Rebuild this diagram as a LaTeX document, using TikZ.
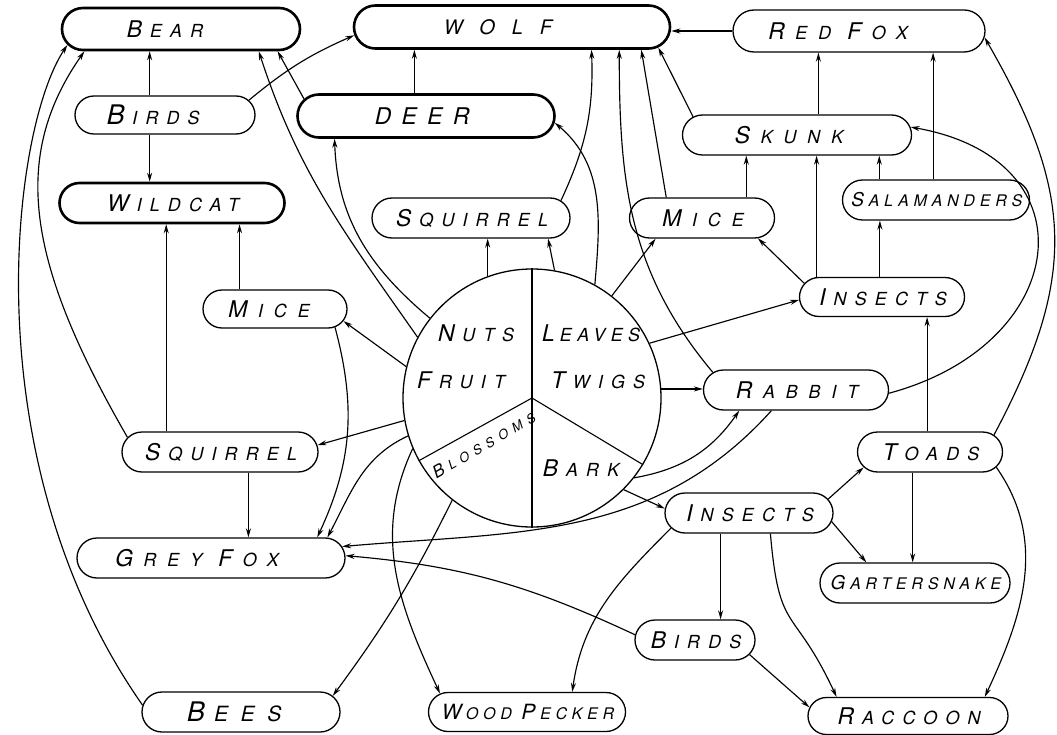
\documentclass[tikz,border=0pt]{standalone}
\usepackage{fontspec}
\usetikzlibrary{shapes.misc,arrows.meta}
\newfontfamily\lettering{TeX Gyre Heros}[LetterSpace=45,FakeSlant=0.22]
\newfontfamily\widelettering{TeX Gyre Heros}[LetterSpace=60,FakeSlant=0.22]
\newfontfamily\widestlettering{TeX Gyre Heros}[LetterSpace=85,FakeSlant=0.22]
\newfontfamily\narrowlettering{TeX Gyre Heros}[LetterSpace=30,FakeSlant=0.22]
\newcommand{\capgap}{.45em}
\newcommand{\capletter}[2][23]{{\fontsize{#1}{#1}\selectfont#2}\kern\capgap}
\newcommand{\tail}[1]{\rule{#1}{0pt}}
\tikzset{
	animal/.style={rounded rectangle,draw,line width=1.3pt,inner sep=0pt,minimum height=40pt,font=\fontsize{18}{20}\lettering},
	heavy/.style={line width=2.6pt},
	widetext/.style={font=\fontsize{18}{20}\widelettering\renewcommand{\capgap}{.6em}},
	narrowtext/.style={font=\fontsize{16}{18}\narrowlettering\renewcommand{\capgap}{.3em}},
	word/.style={inner sep=0pt,font=\fontsize{18}{20}\lettering},
	link/.style={-{Stealth[length=9pt,width=5pt]},line width=1.15pt}
}
\begin{document}
\begin{tikzpicture}[x=1pt,y=1pt]
		\useasboundingbox (0,0) rectangle (1057,-735);
		\node[animal,heavy,minimum width=238pt,minimum height=42pt] (bear) at (181,-29) {\capletter{B}EAR\tail{34pt}};
		\node[animal,heavy,minimum width=316pt,minimum height=43pt,font=\fontsize{20}{20}\widestlettering] (wolf) at (512,-27) {WOLF\tail{30pt}};
		\node[animal,widetext,minimum width=252pt,minimum height=42pt] (redfox) at (859,-31) {\capletter{R}ED \capletter{F}OX\tail{44pt}};
		\node[animal,minimum width=180pt,minimum height=38pt] (birds1) at (165,-115) {\capletter[27]{B}IRDS\tail{26pt}};
		\node[animal,heavy,minimum width=257pt,minimum height=43pt] (deer) at (426,-116) {\fontsize{23}{23}\selectfont DEER\tail{10pt}};
		\node[animal,widetext,minimum width=229pt] (skunk) at (797,-135) {\capletter{S}KUNK\tail{18pt}};
		\node[animal,heavy,minimum width=225pt] (wildcat) at (172,-203) {\capletter{W}ILDCAT};
		\node[animal,minimum width=198pt] (squirrel1) at (471,-218) {\capletter{S}QUIRREL};
		\node[animal,widetext,minimum width=145pt] (mice1) at (702,-218) {\capletter{M}ICE};
		\node[animal,narrowtext,minimum width=187pt] (salamanders) at (936,-200) {\capletter[19]{S}ALAMANDERS};
		\node[animal,widetext,minimum width=144pt,minimum height=38pt] (mice2) at (275,-309) {\capletter{M}ICE\tail{14pt}};
		\node[animal,minimum width=165pt,minimum height=39pt] (insects1) at (882,-297) {\capletter{I}NSECTS};
		\node[animal,widetext,minimum width=185pt] (rabbit) at (796,-390) {\capletter{R}ABBIT};
		\node[animal,minimum width=196pt] (squirrel2) at (220,-452) {\capletter{S}QUIRREL};
		\node[animal,minimum width=145pt] (toads) at (930,-452) {\capletter{T}OADS};
		\node[animal,minimum width=168pt] (insects2) at (749,-513) {\capletter{I}NSECTS};
		\node[animal,widetext,minimum width=268pt] (greyfox) at (211,-558) {\capletter{G}REY \capletter{F}OX\tail{30pt}};
		\node[animal,narrowtext,minimum width=190pt] (gartersnake) at (915,-583) {\capletter[19]{G}ARTERSNAKE};
		\node[animal,minimum width=120pt] (birds2) at (695,-640) {\capletter{B}IRDS};
		\node[animal,widetext,minimum width=198pt,font=\fontsize{21}{21}\widelettering] (bees) at (241,-712) {\capletter[27]{B}EES\tail{16pt}};
		\node[animal,narrowtext,minimum width=197pt,minimum height=39pt] (woodpecker) at (527,-712) {\capletter[21]{W}OOD \capletter[21]{P}ECKER};
		\node[animal,minimum width=200pt,minimum height=37pt] (raccoon) at (908,-716) {\capletter{R}ACCOON};
		\node[circle,draw,line width=1.3pt,minimum size=258pt,inner sep=0pt] (food) at (532,-398) {};
		\draw[line width=1.1pt] (food.north) -- (food.south);
		\draw[line width=1.1pt] (food.center) -- (food.209);
		\draw[line width=1.1pt] (food.center) -- (food.329);
		\node[word] (nuts) at (475,-333) {\capletter{N}UTS};
		\node[word] (fruit) at (460,-380) {\capletter{F}RUIT};
		\node[word,font=\fontsize{18}{20}\narrowlettering\renewcommand{\capgap}{.3em}] (leaves) at (590,-333) {\capletter{L}EAVES};
		\node[word] (twigs) at (597,-380) {\capletter{T}WIGS};
		\node[word] (bark) at (580,-468) {\capletter{B}ARK};
		\node[word,rotate=30,font=\fontsize{13}{14}\lettering] (blossoms) at (483,-445) {\capletter[17]{B}LOSSOMS};
		\draw[link] (redfox.west) -- (redfox.west -| wolf.east);
		\draw[link] (deer.117) -- (deer.117 |- wolf.south);
		\draw[link] (birds1.128) -- (birds1.128 |- bear.south);
		\draw[link] (birds1.232) -- (birds1.232 |- wildcat.north);
		\draw[link] (birds1.10) to[bend left=8] (wolf.183);
		\draw[link] (bees.176) .. controls +(125:300) and +(236:100) .. (bear.188);
		\draw[link] (squirrel2.171) .. controls +(120:200) and +(235:130) .. (bear.193);
		\draw[link] (food.152) to[out=125,in=288] (bear.344);
		\draw[link] (deer.172) -- (bear.347);
		\draw[link] (food.142) to[out=140,in=272] (deer.194);
		\draw[link] (squirrel2.159) -- (squirrel2.159 |- wildcat.south);
		\draw[link] (mice2.151) -- (mice2.151 |- wildcat.south);
		\draw[link] (food.166) -- (mice2.-10);
		\draw[link] (mice2.-17) to[out=-75,in=65] (greyfox.11);
		\draw[link] (food.197) to[out=205,in=62] (greyfox.10);
		\draw[link] (food.190) -- (squirrel2.4);
		\draw[link] (squirrel2.-36) -- (squirrel2.-36 |- greyfox.north);
		\draw[link] (food.232) to[bend left=5] (bees.10);
		\draw[link] (food.203) to[out=245,in=115] (woodpecker.168);
		\draw[link] (insects2.191) to[out=225,in=82] (woodpecker.24);
		\draw[link] (rabbit.220) to[out=228,in=5] (greyfox.5);
		\draw[link] (birds2.175) to[out=155,in=-5] (greyfox.1);
		\draw[link] (food.4) -- (food.4 -| rabbit.west);
		\draw[link] (food.-38) to[out=10,in=235] (rabbit.200);
		\draw[link] (food.-45) -- (insects2.177);
		\draw[link] (food.25) -- (insects1.182);
		\draw[link] (food.52) -- (mice1.204);
		\draw[link] (food.110) -- (food.110 |- squirrel1.south);
		\draw[link] (food.80) -- (squirrel1.-15);
		\draw[link] (squirrel1.11) to[out=65,in=-88] (wolf.-16);
		\draw[link] (food.61) to[out=85,in=-40] (deer.-3);
		\draw[link] (rabbit.168) to[out=130,in=-90] (wolf.-12);
		\draw[link] (mice1.150) -- (wolf.-10);
		\draw[link] (skunk.170) -- (wolf.-8);
		\draw[link] (mice1.25) -- (mice1.25 |- skunk.south);
		\draw[link] (insects1.170) -- (mice1.-20);
		\draw[link] (insects1.163) -- (insects1.163 |- skunk.south);
		\draw[link] (insects1.96) -- (insects1.96 |- salamanders.south);
		\draw[link] (salamanders.160) -- (salamanders.160 |- skunk.south);
		\draw[link] (salamanders.98) -- (salamanders.98 |- redfox.south);
		\draw[link] (skunk.44) -- (skunk.44 |- redfox.south);
		\draw[link] (toads.98) -- (toads.98 |- insects1.south);
		\draw[link] (toads.15) to[out=62,in=-60,looseness=1.15] (redfox.-3);
		\draw[link] (rabbit.-2) to[out=15,in=-10,looseness=1.8] (skunk.4);
		\draw[link] (insects2.10) -- (toads.193);
		\draw[link] (insects2.-6) -- (gartersnake.157);
		\draw[link] (toads.230) -- (toads.230 |- gartersnake.north);
		\draw[link] (insects2.216) -- (insects2.216 |- birds2.north);
		\draw[link] (insects2.-44) to[out=-85,in=115,looseness=1.5] (raccoon.165);
		\draw[link] (birds2.-15) -- (raccoon.175);
		\draw[link] (toads.-13) to[out=-55,in=65] (raccoon.14);
	\end{tikzpicture}
\end{document}
